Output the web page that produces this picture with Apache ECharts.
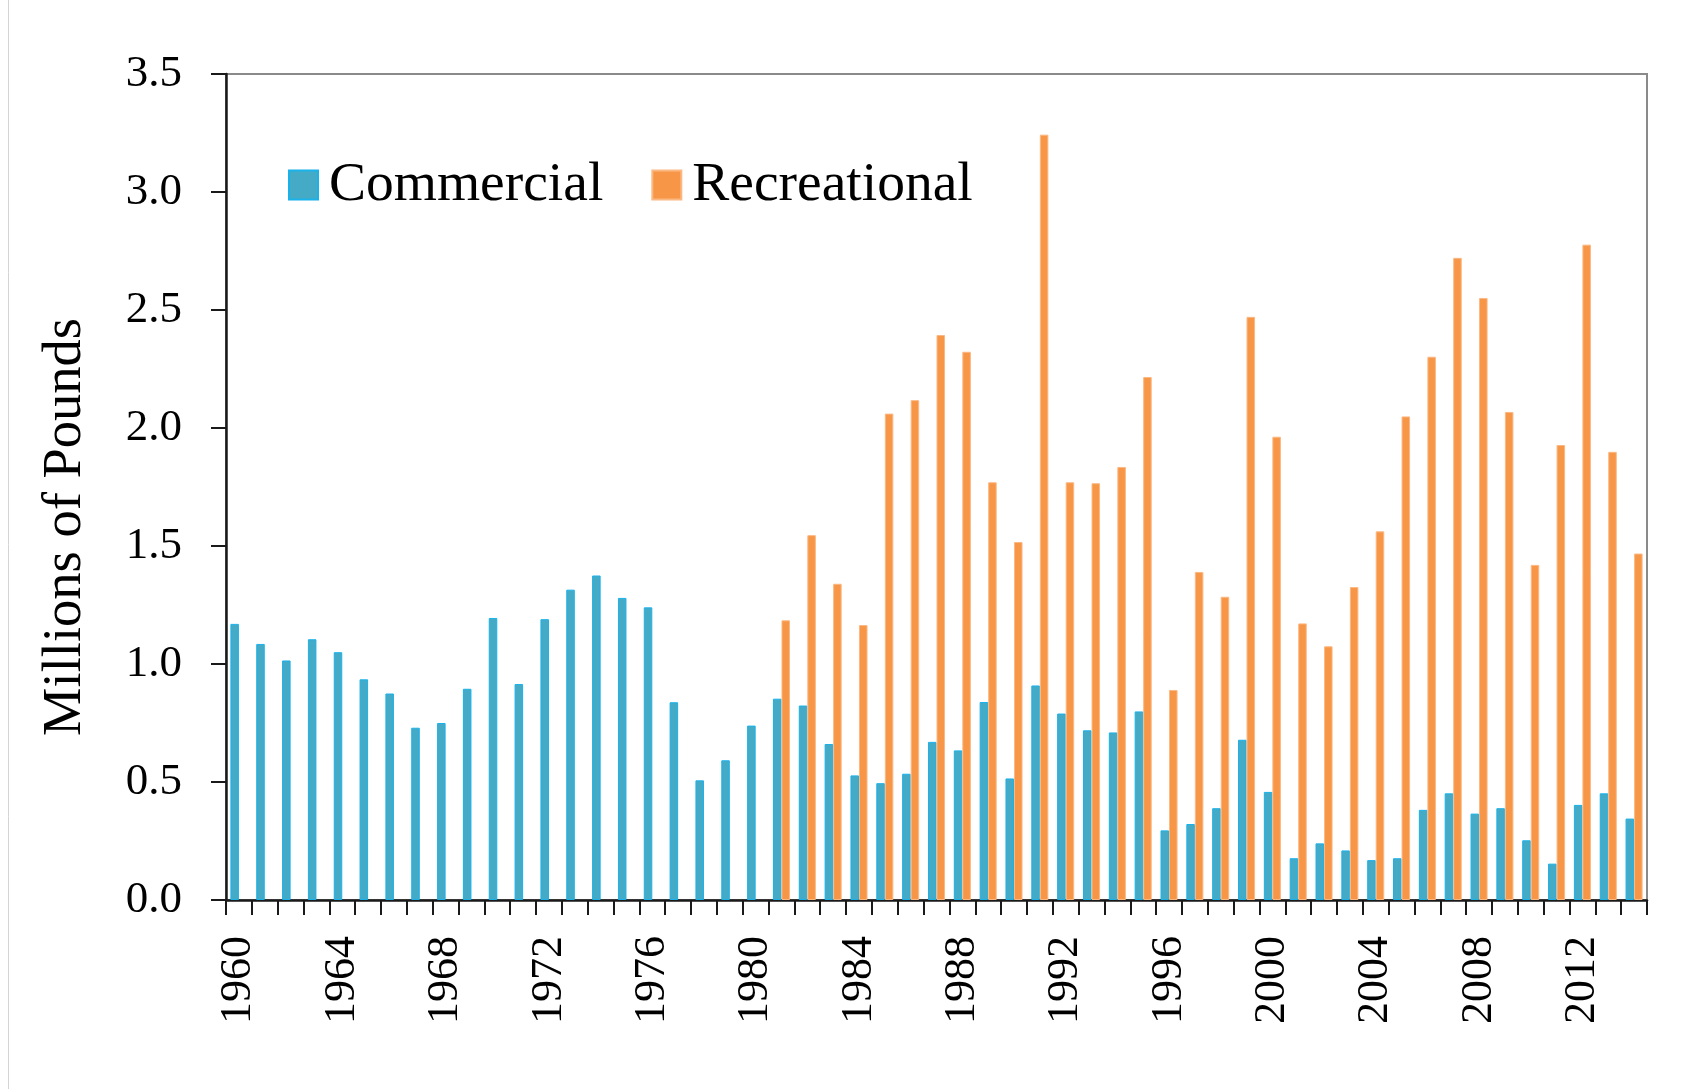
<!DOCTYPE html>
<html>
<head>
<meta charset="utf-8">
<script src="https://cdn.jsdelivr.net/npm/echarts@6/dist/echarts.min.js"></script>
<style>
html,body{margin:0;padding:0;background:#fff;}
#chart{width:1706px;height:1089px;}
</style>
</head>
<body>
<div id="chart"></div>
<script>
const years = [];
for (let y = 1960; y <= 2014; y++) years.push(String(y));

const commercial = [
  1.17, 1.085, 1.015, 1.105, 1.05, 0.935, 0.875, 0.73, 0.75, 0.895,
  1.195, 0.915, 1.19, 1.315, 1.375, 1.28, 1.24, 0.838, 0.507, 0.592,
  0.739, 0.853, 0.824, 0.661, 0.528, 0.495, 0.535, 0.670, 0.634, 0.839,
  0.515, 0.909, 0.790, 0.719, 0.710, 0.799, 0.295, 0.322, 0.389, 0.679,
  0.458, 0.177, 0.240, 0.210, 0.169, 0.177, 0.382, 0.452, 0.366, 0.389,
  0.253, 0.154, 0.403, 0.452, 0.345
];

const recreational = [
  null, null, null, null, null, null, null, null, null, null,
  null, null, null, null, null, null, null, null, null, null,
  null, 1.185, 1.546, 1.340, 1.165, 2.061, 2.118, 2.394, 2.323, 1.770,
  1.517, 3.243, 1.770, 1.766, 1.835, 2.216, 0.890, 1.390, 1.285, 2.471,
  1.963, 1.172, 1.075, 1.326, 1.562, 2.049, 2.302, 2.721, 2.551, 2.068,
  1.420, 1.928, 2.777, 1.899, 1.468
];

const yTicks = [0, 0.5, 1.0, 1.5, 2.0, 2.5, 3.0, 3.5];

const FONT = '"Liberation Serif", "Times New Roman", serif';
const chart = echarts.init(document.getElementById('chart'));
chart.setOption({
  animation: false,
  backgroundColor: '#ffffff',
  grid: {
    left: 226, top: 74, right: 59, bottom: 189,
    show: true, borderColor: '#8a8a8a', borderWidth: 2, backgroundColor: 'transparent'
  },
  legend: {
    left: 288, top: 156, padding: 0,
    icon: 'rect', itemWidth: 29, itemHeight: 29, itemGap: 48,
    textStyle: { fontFamily: FONT, fontSize: 55.5, color: '#000', lineHeight: 58, padding: [0, 0, 0, 6] },
    data: ['Commercial', 'Recreational']
  },
  xAxis: {
    type: 'category',
    data: years,
    boundaryGap: true,
    axisLine: { lineStyle: { color: '#1a1a1a', width: 2.5 } },
    axisTick: { show: true, interval: 0, length: 15, inside: false, lineStyle: { color: '#1a1a1a', width: 2 } },
    axisLabel: { interval: 3, rotate: 90, margin: 36, fontFamily: FONT, fontSize: 44, color: '#000' },
    splitLine: { show: false }
  },
  yAxis: {
    type: 'value',
    min: yTicks[0], max: yTicks[yTicks.length - 1], interval: 0.5,
    axisLine: { show: true, lineStyle: { color: '#1a1a1a', width: 2.5 } },
    axisTick: { show: true, length: 15, inside: false, lineStyle: { color: '#1a1a1a', width: 2 } },
    axisLabel: { margin: 44, fontFamily: FONT, fontSize: 45, color: '#000', formatter: v => v.toFixed(1) },
    splitLine: { show: false }
  },
  graphic: [
    { type: 'line', shape: { x1: 8.5, y1: 0, x2: 8.5, y2: 1089 }, style: { stroke: '#d4d4d4', lineWidth: 1 } },
    { type: 'text', x: 66, y: 527, rotation: Math.PI / 2,
      style: { text: 'Millions of Pounds', font: '54.5px ' + FONT, fill: '#000', textAlign: 'center', textVerticalAlign: 'middle' } }
  ],
  series: [
    {
      name: 'Commercial', type: 'bar', data: commercial,
      barGap: '0%', barCategoryGap: '34%',
      itemStyle: { color: '#45AAC6', borderColor: '#1AB2EA', borderWidth: 1 }
    },
    {
      name: 'Recreational', type: 'bar', data: recreational,
      barGap: '0%', barCategoryGap: '34%',
      itemStyle: { color: '#F79646', borderColor: '#FBB883', borderWidth: 1 }
    }
  ]
});
</script>
</body>
</html>
